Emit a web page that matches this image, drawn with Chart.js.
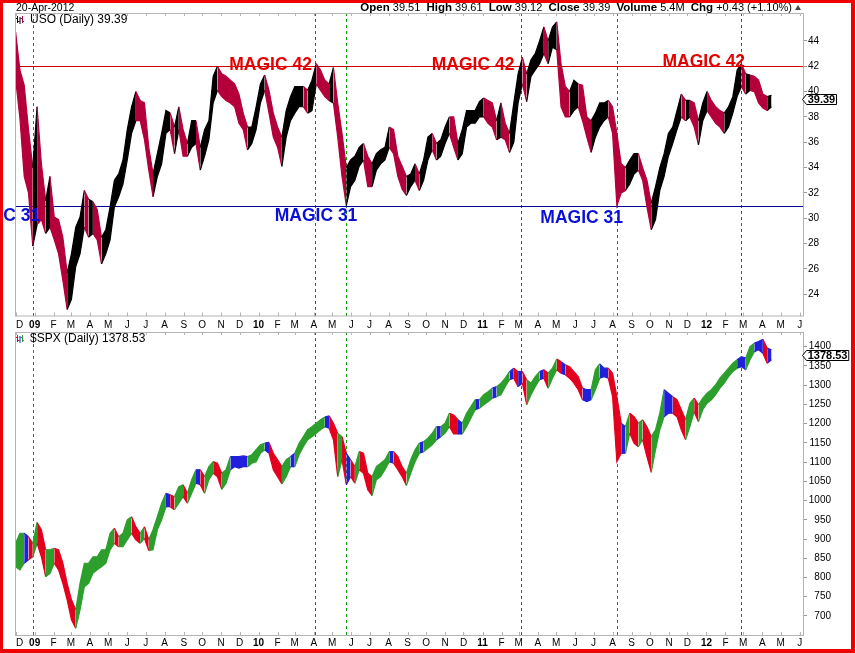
<!DOCTYPE html>
<html><head><meta charset="utf-8"><title>USO vs SPX</title>
<script src="https://cdn.jsdelivr.net/npm/chart.js@4.4.1/dist/chart.umd.min.js"></script>
<style>
html,body{margin:0;padding:0;background:#fff;}
#wrap{position:relative;width:855px;height:653px;overflow:hidden;background:#fff;font-family:"Liberation Sans",Arial,sans-serif;color:#000;}
canvas{position:absolute;left:0;}
#c1{top:0;}
#c2{top:331px;}
#frame{position:absolute;left:0;top:0;width:855px;height:653px;box-sizing:border-box;border-style:solid;border-color:#f00000;border-width:3px 4px 4px 3px;pointer-events:none;z-index:5;}
#date{position:absolute;left:16px;top:1px;font-size:10.5px;line-height:12px;white-space:pre;}
#quote{position:absolute;right:54px;top:1px;font-size:11px;line-height:12px;white-space:pre;}
#quote b{font-size:11.5px;}
.tri{display:inline-block;width:0;height:0;border-left:3px solid transparent;border-right:3px solid transparent;border-bottom:5px solid #3d4a3d;margin-left:3px;vertical-align:1px;}
</style></head><body>
<div id="wrap">
<canvas id="c1" width="855" height="331"></canvas>
<canvas id="c2" width="855" height="322"></canvas>
<div id="date"></div><div id="quote"></div>
<div id="frame"></div>
</div>
<script>
// ---------------- data ----------------
const quoteDate = '20-Apr-2012';
const quoteLabels = ['Open','High','Low','Close','Volume','Chg'];
const quoteValues = ['39.51','39.61','39.12','39.39','5.4M','+0.43 (+1.10%)'];

const firstWeek = '2008-12-01';   // Monday of the first weekly sample

const usoLow = [41.0,37.9,33.3,32.0,27.8,29.5,29.9,28.8,29.3,28.3,
 27.2,25.1,22.8,23.6,26.2,27.2,29.3,28.5,28.8,28.3,
 26.4,27.2,28.3,30.9,31.7,32.7,34.6,36.7,37.7,37.7,
 36.2,33.8,31.7,33.3,34.3,36.7,37.0,35.1,37.0,34.9,
 34.9,35.6,35.9,33.8,34.9,36.2,39.1,40.1,39.6,39.3,
 39.1,38.8,37.5,37.0,35.4,35.9,37.0,39.1,40.1,38.3,
 36.4,35.6,34.1,36.4,37.7,38.3,38.8,38.8,38.3,38.5,
 40.6,40.1,39.6,39.3,39.1,36.4,33.3,31.0,32.5,33.0,
 34.1,34.6,32.5,32.5,33.8,34.3,34.6,35.6,35.1,33.3,
 32.3,31.8,32.5,33.0,32.2,33.0,34.6,35.4,34.6,34.9,
 35.9,36.7,35.6,34.6,35.1,37.2,37.5,37.5,38.0,38.0,
 37.5,37.2,36.2,36.4,36.2,35.2,36.0,39.1,40.6,39.2,
 41.2,41.7,42.2,43.0,42.2,43.5,43.3,38.8,38.0,38.0,
 38.5,38.8,37.7,36.4,35.2,36.4,37.2,37.7,38.0,36.7,
 31.0,32.0,32.2,32.7,33.5,33.8,33.0,30.9,29.1,29.9,
 32.2,33.3,34.9,35.9,37.0,38.0,37.7,38.0,37.2,35.8,
 37.7,38.5,38.0,37.5,37.2,36.7,37.2,38.3,39.6,40.4,
 39.8,40.1,40.0,39.1,38.7,38.5,38.8];
const usoHigh = [44.7,41.7,40.5,37.0,34.0,38.8,34.3,31.4,33.3,30.1,
 29.9,28.5,25.7,27.2,29.3,30.1,32.2,31.5,31.3,30.7,
 28.5,29.1,30.9,33.0,33.5,34.6,37.0,38.8,40.0,39.3,
 39.1,35.6,33.5,35.1,36.7,38.5,38.3,37.2,38.8,37.0,
 35.9,37.7,37.7,35.6,37.0,37.7,41.2,42.0,41.4,41.2,
 40.9,40.6,39.8,38.3,37.2,37.2,38.8,40.6,41.3,40.1,
 38.3,37.2,36.4,38.5,39.6,40.4,40.4,40.4,40.1,40.9,
 42.2,41.7,40.9,40.6,41.9,39.1,36.7,34.0,34.6,34.9,
 35.6,35.9,34.9,34.3,35.1,35.4,35.6,37.2,37.0,34.9,
 34.1,33.3,33.5,34.3,33.5,34.6,36.4,36.7,35.9,36.2,
 37.2,38.0,38.0,35.9,37.0,38.5,38.5,38.5,39.2,39.5,
 39.3,39.1,37.7,39.1,37.5,36.7,39.1,41.4,42.7,41.4,
 42.5,43.0,44.0,45.1,44.0,45.1,45.5,42.2,40.4,40.0,
 40.9,40.6,40.5,38.0,37.7,38.3,39.1,39.1,39.3,38.8,
 36.7,34.3,34.0,34.6,35.1,35.1,34.0,33.0,31.2,32.5,
 34.0,35.1,36.7,37.2,38.5,39.8,39.3,39.3,39.1,37.7,
 39.1,40.0,39.3,38.8,38.5,38.3,38.8,39.6,41.7,42.2,
 41.4,41.3,41.2,40.9,39.8,39.6,39.7];
const usoLast = 39.39;

const spxLow = [828,820,837,846,854,889,854,802,811,837,
 820,785,742,690,668,716,776,785,811,820,
 828,837,872,889,880,880,898,915,898,889,
 902,870,872,924,950,984,984,976,993,1010,
 993,1019,1045,1041,1019,1054,1071,1062,1029,1045,
 1080,1088,1084,1088,1088,1097,1101,1123,1132,1123,
 1080,1062,1043,1062,1088,1088,1119,1140,1158,1166,
 1175,1184,1192,1188,1158,1062,1106,1041,1062,1045,
 1080,1071,1028,1013,1054,1062,1080,1101,1097,1080,
 1062,1039,1071,1101,1123,1127,1136,1145,1158,1166,
 1175,1192,1173,1173,1173,1192,1214,1236,1240,1249,
 1257,1266,1270,1275,1296,1314,1318,1296,1305,1249,
 1275,1296,1314,1318,1292,1318,1340,1331,1327,1318,
 1305,1288,1262,1257,1262,1288,1318,1322,1318,1270,
 1101,1123,1123,1175,1149,1140,1158,1114,1073,1132,
 1184,1218,1227,1227,1218,1184,1158,1192,1231,1205,
 1236,1253,1262,1275,1292,1305,1322,1335,1344,1348,
 1340,1366,1387,1392,1383,1357,1366];
const spxHigh = [889,915,915,906,889,943,924,872,872,876,
 872,837,785,742,716,785,837,837,854,854,
 872,872,915,928,906,915,950,958,932,915,
 932,898,924,958,993,1019,1015,1010,1036,1041,
 1019,1054,1080,1080,1062,1088,1101,1097,1071,1080,
 1114,1114,1114,1116,1114,1119,1132,1145,1149,1151,
 1123,1106,1088,1106,1114,1123,1149,1166,1184,1192,
 1201,1210,1217,1220,1201,1175,1166,1123,1106,1088,
 1127,1123,1071,1062,1088,1097,1106,1127,1127,1114,
 1088,1071,1106,1132,1149,1153,1162,1175,1192,1192,
 1201,1227,1222,1210,1201,1227,1244,1262,1262,1275,
 1283,1292,1296,1305,1318,1335,1344,1335,1335,1314,
 1305,1322,1335,1340,1331,1344,1368,1361,1353,1348,
 1335,1322,1292,1288,1288,1340,1355,1344,1344,1331,
 1270,1201,1192,1227,1218,1201,1210,1192,1166,1184,
 1227,1288,1279,1270,1262,1236,1210,1253,1266,1249,
 1266,1279,1288,1301,1318,1331,1344,1357,1366,1374,
 1370,1400,1409,1413,1419,1396,1392];
const spxLast = 1378.53;

const monthLabels = ['D',
 '09','F','M','A','M','J','J','A','S','O','N','D',
 '10','F','M','A','M','J','J','A','S','O','N','D',
 '11','F','M','A','M','J','J','A','S','O','N','D',
 '12','F','M','A','M','J'];
const firstMonth = '2008-12-01';
const usoTicks = [24,26,28,30,32,34,36,38,40,42,44];
const spxTicks = [700,750,800,850,900,950,1000,1050,1100,1150,1200,1250,1300,1350,1400];

const magicLevels = [42, 31];
const noteTexts = ['MAGIC 42','MAGIC 42','MAGIC 42','MAGIC 31','MAGIC 31','MAGIC 31'];
const noteEndDates = ['2010-03-29','2011-02-22','2012-03-04','2009-01-10','2010-06-11','2011-08-18'];
const noteValues = [41.7,41.7,41.9,29.75,29.78,29.65];

const signalDates = ['2008-12-29','2010-04-03','2010-05-23','2011-03-05','2011-08-08','2012-02-26'];
const signalKinds = ['buy','sell','buy','sell','buy','sell'];

// ---------------- helpers ----------------
const DAY = 86400000;
const dayNum = s => { const p = s.split('-').map(Number); return Date.UTC(p[0], p[1]-1, p[2]) / DAY; };
const FONT = '"Liberation Sans", Arial, sans-serif';
Chart.defaults.font.family = FONT;
Chart.defaults.color = '#000';

document.getElementById('date').textContent = quoteDate;
document.getElementById('quote').innerHTML =
  quoteLabels.map((l, i) => '<b>' + l + '</b> ' + quoteValues[i]).join('  ') + '<span class="tri"></span>';

const fm = firstMonth.split('-').map(Number);
const monthVals = monthLabels.map((_, k) => Date.UTC(fm[0], fm[1] - 1 + k, 1) / DAY);
const weekX = i => dayNum(firstWeek) + 7 * i;

const signalColor = { buy: '#0c9a0c', sell: '#e41414' };

const panelDeco = {
  id: 'panelDeco',
  beforeDatasetsDraw(chart, args, o) {
    const { ctx, chartArea: a, scales: { x, y } } = chart;
    ctx.save();
    ctx.lineWidth = 1;
    ctx.setLineDash([3, 3]);
    signalDates.forEach((d, i) => {
      const px = Math.round(x.getPixelForValue(dayNum(d))) + 0.5;
      ctx.strokeStyle = signalColor[signalKinds[i]];
      ctx.beginPath(); ctx.moveTo(px, a.top); ctx.lineTo(px, a.bottom); ctx.stroke();
    });
    ctx.setLineDash([]);
    (o.hLines || []).forEach(h => {
      const py = Math.round(y.getPixelForValue(h.value)) + 0.5;
      ctx.strokeStyle = h.color;
      ctx.beginPath(); ctx.moveTo(a.left, py); ctx.lineTo(a.right, py); ctx.stroke();
    });
    ctx.restore();
  },
  afterDatasetsDraw(chart, args, o) {
    const { ctx, chartArea: a, scales: { x, y } } = chart;
    ctx.save();
    ctx.strokeStyle = '#b4b4b4'; ctx.lineWidth = 1;
    ctx.strokeRect(a.left + 0.5, a.top + 0.5, a.width - 1, a.height - 1);
    ctx.beginPath();
    monthVals.forEach(v => {
      const px = Math.round(x.getPixelForValue(v)) + 0.5;
      ctx.moveTo(px, a.bottom); ctx.lineTo(px, a.bottom - 4);
      ctx.moveTo(px, a.top); ctx.lineTo(px, a.top + 3);
    });
    ctx.stroke();
    // month labels
    ctx.fillStyle = '#000'; ctx.textBaseline = 'middle'; ctx.textAlign = 'center';
    monthLabels.forEach((t, k) => {
      ctx.font = (/^\d/.test(t) ? 'bold ' : '') + '10px ' + FONT;
      const w = ctx.measureText(t).width;
      const px = Math.max(x.getPixelForValue(monthVals[k]), a.left + w / 2 + 1);
      ctx.fillText(t, px, a.bottom + o.xLabelGap);
    });
    // value labels (right axis)
    ctx.font = '10px ' + FONT; ctx.textAlign = 'right';
    o.ticks.forEach(v => {
      ctx.fillText(String(v), a.right + o.yLabelRight, y.getPixelForValue(v));
    });
    // annotations
    ctx.font = 'bold 17.5px ' + FONT;
    ctx.textAlign = 'right'; ctx.textBaseline = 'alphabetic';
    (o.notes || []).forEach(n => {
      ctx.fillStyle = n.color;
      ctx.fillText(n.text, x.getPixelForValue(dayNum(n.date)), y.getPixelForValue(n.value));
    });
    // title + icon
    ctx.textAlign = 'left'; ctx.textBaseline = 'middle'; ctx.fillStyle = '#000';
    ctx.font = '12px ' + FONT;
    ctx.fillText(o.title, a.left + 15, a.top + 6.5);
    const ix = a.left + 2, iy = a.top + 3;
    o.iconColors.forEach((c, k) => {
      ctx.fillStyle = c;
      ctx.fillRect(ix + k * 2.5, iy + (k % 2 ? 1 : 0), 1, 7);
      ctx.fillRect(ix + k * 2.5 - 1, iy + (k % 2 ? 5 : 2), 1, 1);
      ctx.fillRect(ix + k * 2.5 + 1, iy + (k % 2 ? 2 : 5), 1, 1);
    });
    // last price tag
    const py = Math.round(y.getPixelForValue(o.last)) + 0.5;
    ctx.font = 'bold 11px ' + FONT;
    const w = ctx.measureText(o.lastText).width;
    const tip = a.right - 1.5, bx = a.right + 2.5, rx = bx + w + 2.5, h2 = 5;
    ctx.beginPath();
    ctx.moveTo(tip, py); ctx.lineTo(bx, py - h2); ctx.lineTo(rx, py - h2);
    ctx.lineTo(rx, py + h2); ctx.lineTo(bx, py + h2); ctx.closePath();
    ctx.fillStyle = '#fff'; ctx.fill();
    ctx.strokeStyle = '#000'; ctx.stroke();
    ctx.fillStyle = '#000'; ctx.textBaseline = 'middle';
    ctx.fillText(o.lastText, bx + 1.2, py + 0.5);
    ctx.restore();
  }
};

function panel(id, o) {
  const hi = o.high.map((v, i) => ({ x: weekX(i), y: v }));
  const lo = o.low.map((v, i) => ({ x: weekX(i), y: v }));
  const colors = o.low.map((_, i) => o.colorOf(i));
  const segCol = c => colors[c.p1DataIndex];
  return new Chart(document.getElementById(id), {
    type: 'line',
    data: { datasets: [
      { data: hi, borderWidth: 1.2, pointRadius: 0, tension: 0, fill: false,
        borderColor: colors[0], segment: { borderColor: segCol } },
      { data: lo, borderWidth: 1.2, pointRadius: 0, tension: 0, fill: '-1',
        borderColor: colors[0], backgroundColor: colors[0],
        segment: { borderColor: segCol, backgroundColor: segCol } }
    ] },
    options: {
      responsive: false, animation: false, events: [],
      layout: { padding: { left: 15, top: o.padTop, right: 0, bottom: 0 } },
      plugins: { legend: { display: false }, tooltip: { enabled: false }, panelDeco: o.deco },
      scales: {
        x: {
          type: 'linear', offset: false,
          min: dayNum('2008-11-30'), max: dayNum('2012-06-08'),
          afterBuildTicks: s => { s.ticks = monthVals.map(v => ({ value: v })); },
          afterFit: s => { s.height = o.xHeight; },
          grid: { display: false }, border: { display: false },
          ticks: { display: false }
        },
        y: {
          position: 'right', min: o.yMin, max: o.yMax,
          afterBuildTicks: s => { s.ticks = o.deco.ticks.map(v => ({ value: v })); },
          afterFit: s => { s.width = 51; },
          grid: { drawOnChartArea: false, drawTicks: true, tickLength: 3, color: '#999' },
          border: { display: false },
          ticks: { display: false }
        }
      }
    },
    plugins: [panelDeco]
  });
}

const mid = (lo, hi, i) => (lo[i] + hi[i]) / 2;

panel('c1', {
  low: usoLow, high: usoHigh, padTop: 13, xHeight: 14.5,
  yMin: 22.25, yMax: 46.2,
  colorOf: i => (i === 0 || mid(usoLow, usoHigh, i) >= mid(usoLow, usoHigh, i - 1)) ? '#000000' : '#b3003b',
  deco: {
    ticks: usoTicks, xLabelGap: 9, yLabelRight: 15,
    title: 'USO (Daily) ' + usoLast.toFixed(2),
    iconColors: ['#000', '#000', '#b3003b'],
    last: usoLast, lastText: usoLast.toFixed(2),
    hLines: [{ value: magicLevels[0], color: '#cc0000' }, { value: magicLevels[1], color: '#00009c' }],
    notes: noteTexts.map((t, i) => ({ text: t, date: noteEndDates[i], value: noteValues[i],
      color: t.endsWith('42') ? '#e60000' : '#0a10d8' }))
  }
});

panel('c2', {
  low: spxLow, high: spxHigh, padTop: 1, xHeight: 17,
  yMin: 648, yMax: 1438,
  colorOf: i => {
    if (i === 0) return '#2c9e2c';
    const a = mid(spxLow, spxHigh, i - 1), b = mid(spxLow, spxHigh, i);
    const ch = (b - a) / a;
    return ch > 0.005 ? '#2c9e2c' : ch < -0.005 ? '#e3001e' : '#2020dc';
  },
  deco: {
    ticks: spxTicks, xLabelGap: 7.3, yLabelRight: 27,
    title: '$SPX (Daily) ' + spxLast.toFixed(2),
    iconColors: ['#e3001e', '#2020dc', '#2c9e2c'],
    last: spxLast, lastText: spxLast.toFixed(2),
    hLines: [], notes: []
  }
});
</script>
</body></html>
